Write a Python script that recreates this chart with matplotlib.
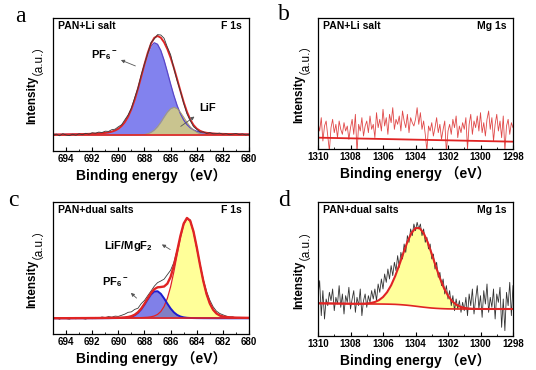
# %%
# =========================
# SETUP
# =========================

import matplotlib

matplotlib.use("Agg")
import matplotlib.pyplot as plt
import numpy as np
from matplotlib.ticker import MultipleLocator

plt.rcParams["font.family"] = ["Liberation Sans", "Noto Sans CJK SC"]
plt.rcParams["font.weight"] = "bold"
plt.rcParams["mathtext.fontset"] = "custom"
plt.rcParams["mathtext.rm"] = "Liberation Sans:bold"
plt.rcParams["mathtext.it"] = "Liberation Sans:bold"
plt.rcParams["mathtext.bf"] = "Liberation Sans:bold"

# %%
# =========================
# DATA (arbitrary intensity units)
# =========================

# F 1s grid for panels a and c: 695 -> 680 eV, 0.25 eV steps
f1s_energy = np.linspace(695, 680, 61)

# panel a: PAN+Li salt, F 1s
a_pf6 = [1.5, 1.6, 1.7, 1.8, 2.0, 2.1, 2.3, 2.4, 2.6, 2.8, 3.1, 3.4, 3.8, 4.2, 4.7, 5.5, 6.4, 7.8, 10.0, 13.4,
         18.7, 26.8, 38.8, 55.4, 77.7, 105.6, 138.5, 174.5, 210.6, 242.7, 266.2, 276.7, 272.1, 253.4, 224.2,
         189.2, 152.7, 118.3, 88.2, 63.7, 44.8, 31.1, 21.6, 15.3, 11.2, 8.8, 6.9, 5.9, 5.0, 4.5, 4.0, 3.6,
         3.3, 3.1, 2.9, 2.7, 2.5, 2.4, 2.2, 2.1, 2.0]
a_lif = [0] * 20 + [0, 0, 0, 0, 0, 0.1, 0.3, 0.7, 1.7, 3.8, 7.9, 14.7, 25.0, 38.5, 53.9, 68.5, 79.1, 83.0,
                    79.1, 68.5, 53.9, 38.5, 25.0, 14.7, 7.9, 3.8, 1.7, 0.7, 0.3, 0.1] + [0] * 11
a_resid = [-3, 1, -4, 2, -2, -4, 0, -3, 1, -2, 2, -1, 3, 1, 4, 2, 5, 3, 6, 4,
           6, 4, 7, 5, 3, 6, 2, 5, 1, -2, 3, -3, 4, 8, 12, 6, 9, -2, -5, -1, -4, -6, -3, -5, -2, -4,
           1, -2, 2, -1, 0, 2, -1, 1, -2, 0, 2, -1, 1, -2, 0]

# panel c: PAN+dual salts, F 1s
c_pf6 = [0.1, 0.1, 0.1, 0.1, 0.1, 0.1, 0.1, 0.2, 0.2, 0.2, 0.2, 0.3, 0.3, 0.3, 0.4, 0.4, 0.5, 0.5, 0.6, 0.7,
         0.8, 1.0, 1.5, 2.6, 4.9, 9.1, 16.2, 26.9, 41.0, 56.8, 71.2, 80.4, 81.3, 73.6, 59.9, 44.1, 29.5,
         18.0, 10.2, 5.5, 3.0, 1.7, 1.1, 0.8, 0.6, 0.5, 0.4, 0.35, 0.3, 0.3, 0.2, 0.2, 0.2, 0.2, 0.1, 0.1,
         0.1, 0.1, 0.1, 0.1, 0.1]
c_mgf2 = [0.3, 0.3, 0.3, 0.3, 0.3, 0.4, 0.4, 0.4, 0.4, 0.5, 0.5, 0.5, 0.6, 0.6, 0.6, 0.7, 0.7, 0.8, 0.9, 0.9,
          1.0, 1.1, 1.2, 1.4, 1.5, 1.7, 2.0, 2.2, 2.7, 3.3, 4.6, 7.0, 11.7, 20.4, 35.6, 59.9, 94.8, 140.0,
          191.6, 241.9, 281.2, 299.4, 291.5, 259.6, 212.4, 160.1, 111.8, 72.5, 44.2, 25.6, 14.6, 8.5, 5.3,
          3.7, 2.9, 2.4, 2.0, 1.8, 1.6, 1.4, 1.3]
c_resid = [-2, 1, -3, 2, -1, -3, 1, -2, 2, -1, -3, 1, -2, 2, 0, 3, 1, 4, 2, 5,
           4, 7, 10, 14, 13, 16, 12, 15, 10, 8, 6, 9, 14, 18, 22, 27, 20, 10, 4, -3, 2, -2, 3, -1, -4,
           2, 5, 8, 10, 9, 7, 6, 5, 3, 1, 2, -1, 1, -2, 0, -1]

# Mg 1s raw grid for panels b and d: 1310 -> 1298 eV, 0.1 eV steps
mg1s_raw_energy = np.linspace(1310, 1298, 121)

# panel b: PAN+Li salt, Mg 1s (noise only)
b_raw = [45, 20, 60, -10, 35, 50, 5, -40, 30, 55,
         15, 40, 0, 50, 25, 10, 45, 20, 35, -5,
         30, 55, 10, 70, -45, 40, 20, 60, 5, 35,
         50, 15, 65, 25, 40, 0, 75, 30, 55, 20,
         85, 35, 60, 10, 70, 45, 90, 25, 55, 40,
         65, 20, 80, 50, 30, 70, 15, 60, 45, 35,
         55, 90, 40, 75, 25, 50, 10, -40, 35, 20,
         45, 5, 30, 60, 15, 40, -5, 25, 50, -45,
         20, 40, 10, 55, 30, 65, 0, 35, 15, 45,
         25, 60, -35, 40, 70, 10, 50, 30, 65, 20,
         75, 15, 45, 5, 55, 80, 25, 60, -10, 40,
         70, 20, 50, 0, 65, -40, 35, 55, 10, 45,
         30]
b_bg_energy = [1310, 1298]
b_bg = [0, -12]

# panel d: PAN+dual salts, Mg 1s
d_raw = [40, 85, -20, 55, -30, 30, 10, 50, 25, 60,
         -5, 35, 15, 70, 5, 45, -15, 40, 20, 65,
         0, 30, 55, -10, 35, 10, 60, -20, 25, 45,
         5, 40, 20, 55, 30,
         60, 25, 75, 50, 90, 60, 105, 80, 120, 90,
         130, 100, 140, 115, 160, 125, 170, 150, 195, 170,
         220, 200, 240, 220, 255, 235, 260, 240, 255, 220,
         240, 200, 215, 180, 195, 150, 165, 120, 140, 95,
         110, 70, 90, 45, 70, 30, 55, 10, 40, -5,
         30, 0, 25, -10, 20, -5,
         35, -20, 45, 10, 60, -15, 30, 70, 0, 40,
         -25, 55, 15, 75, -10, 35, 5, 60, -30, 45,
         20, 65, -55, 30, -65, 50, 10, 80, -20, 70]
# fitted curves on a 0.25 eV grid
mg1s_fit_energy = np.linspace(1310, 1298, 49)
d_bg = [17.0, 16.9, 16.7, 16.6, 16.4, 16.3, 16.1, 16.0, 15.8, 15.7, 15.5, 15.4, 15.2, 15.1, 15.0, 14.9, 14.8,
        14.6, 14.3, 13.9, 13.2, 12.3, 11.2, 9.9, 8.4, 6.9, 5.4, 4.1, 2.9, 2.0, 1.3, 0.8, 0.4, 0.2, 0.1, 0, 0] + [0] * 12
d_mgf2 = [0, 0, 0, 0, 0, 0, 0, 0, 0, 0.1, 0.3, 0.6,
          1.3, 2.9, 6.0, 11.6, 21.0, 35.7, 56.9, 84.8, 118.5, 155.0, 189.9, 217.9, 234.2, 235.8, 222.3,
          196.2, 162.3, 125.7, 91.2, 62.0, 39.4, 23.5, 13.1, 6.9, 3.4, 1.5, 0.6, 0.2] + [0] * 9

f1s_ticks_label = "F 1s"
mg1s_ticks_label = "Mg 1s"
xlabel = "Binding energy （eV）"

# %%
# =========================
# FIGURE
# =========================

RED = "#e02424"
fig = plt.figure(figsize=(5.36, 3.70), dpi=100)
ax_a = fig.add_axes([0.0989, 0.5919, 0.3657, 0.3595])
ax_b = fig.add_axes([0.5933, 0.5973, 0.3638, 0.3541])
ax_c = fig.add_axes([0.0989, 0.0973, 0.3657, 0.3568])
ax_d = fig.add_axes([0.5933, 0.0919, 0.3638, 0.3622])


def style(ax, xlim, ylim, sample, core, ylab_x):
    ax.set_xlim(*xlim)
    ax.set_ylim(*ylim)
    ax.xaxis.set_major_locator(MultipleLocator(2))
    ax.xaxis.set_minor_locator(MultipleLocator(1))
    ax.set_yticks([])
    ax.tick_params(axis="x", which="major", direction="in", length=3, width=0.8, labelsize=7, pad=2)
    ax.tick_params(axis="x", which="minor", direction="in", length=1.5, width=0.6)
    for lbl in ax.get_xticklabels():
        lbl.set_fontweight("bold")
    for s in ax.spines.values():
        s.set_linewidth(0.9)
    ax.set_xlabel(xlabel, fontsize=10, fontweight="bold", labelpad=3)
    ax.text(ylab_x, 0.2, "Intensity", rotation=90, transform=ax.transAxes,
            ha="center", va="bottom", fontsize=8.5, fontweight="bold")
    ax.text(ylab_x, 0.57, "（a.u.）", rotation=90, transform=ax.transAxes,
            ha="center", va="bottom", fontsize=8.5, fontweight="normal")
    ax.text(0.025, 0.94, sample, transform=ax.transAxes, ha="left", va="center",
            fontsize=7.5, fontweight="bold")
    ax.text(0.965, 0.94, core, transform=ax.transAxes, ha="right", va="center",
            fontsize=7.5, fontweight="bold")


def arrow(ax, head, tail):
    ax.annotate("", xy=head, xytext=tail,
                arrowprops=dict(arrowstyle="-|>", color="#555555", lw=0.6, mutation_scale=5))


# ---- a
a_pf6_v = np.array(a_pf6)
a_lif_v = np.array(a_lif)
a_env = a_pf6_v + a_lif_v
ax_a.fill_between(f1s_energy, 0, a_pf6_v, color="#8282ee", lw=0)
ax_a.plot(f1s_energy, a_pf6_v, color="#5a46c8", lw=0.9)
ax_a.fill_between(f1s_energy, 0, a_lif_v, color="#c9c48f", lw=0)
ax_a.plot(f1s_energy, a_lif_v, color="#aaa266", lw=0.6)
ax_a.plot([695, 680], [0, 0], color=RED, lw=1.2)
ax_a.plot(f1s_energy, a_env, color=RED, lw=1.4)
ax_a.plot(f1s_energy, a_env + np.array(a_resid), color="#3a3a3a", lw=0.6)
ax_a.text(691.1, 240, "PF$_6$$^-$", ha="center", va="center", fontsize=8)
arrow(ax_a, (690.0, 228), (688.5, 204))
ax_a.text(683.15, 81, "LiF", ha="center", va="center", fontsize=8)
arrow(ax_a, (684.0, 60), (685.4, 21))
style(ax_a, (695, 680), (-48, 351), "PAN+Li salt", f1s_ticks_label, -0.107)

# ---- b
ax_b.plot(mg1s_raw_energy, b_raw, color="#e04848", lw=0.6)
ax_b.plot(b_bg_energy, b_bg, color=RED, lw=1.3)
style(ax_b, (1310, 1298), (-34, 359), "PAN+Li salt", mg1s_ticks_label, -0.097)

# ---- c
c_pf6_v = np.array(c_pf6)
c_mgf2_v = np.array(c_mgf2)
c_env = c_pf6_v + c_mgf2_v
ax_c.fill_between(f1s_energy, 0, c_mgf2_v, color="#ffff99", lw=0)
ax_c.fill_between(f1s_energy, 0, c_pf6_v, color="#3c3cdc", alpha=0.65, lw=0)
ax_c.plot(f1s_energy, c_mgf2_v, color=RED, lw=0.9)
ax_c.plot(f1s_energy, c_pf6_v, color="#1c1cd0", lw=1.4)
ax_c.plot([695, 680], [0, 0], color=RED, lw=1.2)
ax_c.plot(f1s_energy, c_env + np.array(c_resid), color="#3a3a3a", lw=0.6)
ax_c.plot(f1s_energy, c_env, color=RED, lw=1.7)
ax_c.text(689.2, 217, "LiF/MgF$_2$", ha="center", va="center", fontsize=8)
arrow(ax_c, (686.85, 226), (685.85, 202))
ax_c.text(690.2, 109, "PF$_6$$^-$", ha="center", va="center", fontsize=8)
arrow(ax_c, (689.2, 82), (688.45, 55))
style(ax_c, (695, 680), (-47, 349), "PAN+dual salts", f1s_ticks_label, -0.107)

# ---- d
d_bg_v = np.array(d_bg)
d_env = d_bg_v + np.array(d_mgf2)
ax_d.fill_between(mg1s_fit_energy, d_bg_v, d_env, color="#ffff9c", lw=0)
ax_d.plot(mg1s_raw_energy, d_raw, color="#333333", lw=0.6)
ax_d.plot(mg1s_fit_energy, d_bg_v, color=RED, lw=1.2)
ax_d.plot(mg1s_fit_energy, d_env, color=RED, lw=1.5)
style(ax_d, (1310, 1298), (-81, 321), "PAN+dual salts", mg1s_ticks_label, -0.097)

# panel letters
for letter, (x, y) in {"a": (20, 16), "b": (284, 15), "c": (13, 200), "d": (284, 200)}.items():
    fig.text(x / 536, 1 - y / 370, letter, family="Liberation Serif", fontsize=17,
             fontweight="normal", ha="center", va="center")

fig.savefig("out.png", dpi=100)
